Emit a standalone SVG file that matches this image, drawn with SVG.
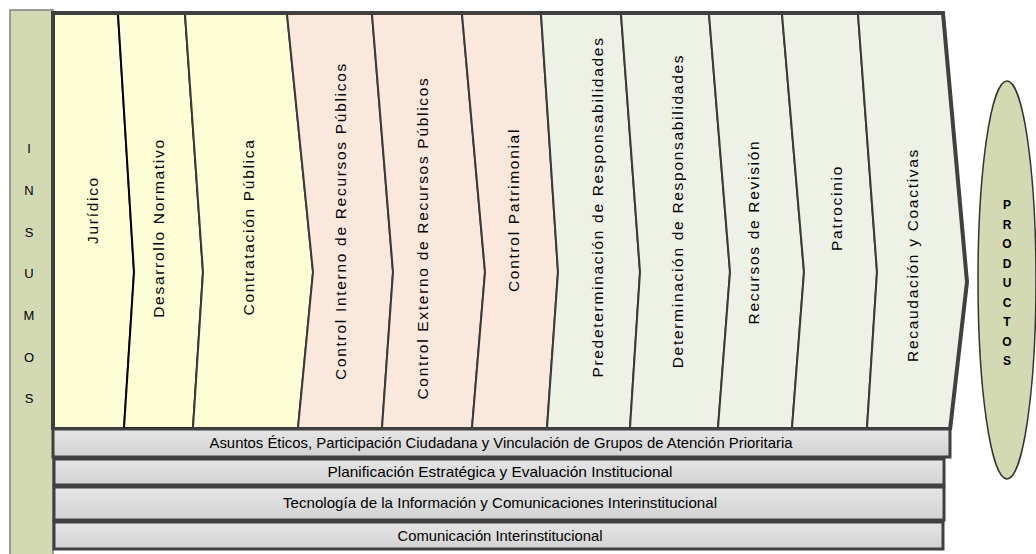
<svg xmlns="http://www.w3.org/2000/svg" width="1036" height="554" viewBox="0 0 1036 554">
<defs>
<linearGradient id="barg" x1="0" y1="0" x2="0" y2="1">
<stop offset="0" stop-color="#e6e6e6"/>
<stop offset="1" stop-color="#d2d2d2"/>
</linearGradient>
<style>
.col{stroke:#3a3a3a;stroke-width:2;stroke-linejoin:miter}
.y{fill:#fefed6}
.s{fill:#fae8dc}
.g{fill:#eef1e6}
.vt{font-family:"Liberation Sans",Arial,sans-serif;font-size:15.5px;letter-spacing:1.7px;fill:#000;text-anchor:middle}
.bar{fill:url(#barg);stroke:#404040;stroke-width:3}
.bt{font-family:"Liberation Sans",Arial,sans-serif;font-size:15px;fill:#000;text-anchor:middle}
.side{fill:#d3d9b3}
.lt{font-family:"Liberation Sans",Arial,sans-serif;font-size:13px;fill:#000;text-anchor:middle}
.pt{font-family:"Liberation Sans",Arial,sans-serif;font-size:12px;font-weight:bold;fill:#000;text-anchor:middle}
</style>
</defs>
<rect width="1036" height="554" fill="#ffffff"/>
<g id="insumos">
<rect class="side" x="10" y="10" width="43" height="550" stroke="#808080" stroke-width="1.5"/>
<text class="lt" x="29" y="153">I</text>
<text class="lt" x="29" y="195">N</text>
<text class="lt" x="29" y="237">S</text>
<text class="lt" x="29" y="278">U</text>
<text class="lt" x="29" y="320">M</text>
<text class="lt" x="29" y="362">O</text>
<text class="lt" x="29" y="403">S</text>
</g>
<g id="juridico">
<polygon class="col y" points="54,14 118,14 134,272 124,428 54,428 54,272"/>
<text class="vt" transform="translate(98,210) rotate(-90)">Jurídico</text>
</g>
<g id="desarrollo-normativo">
<polygon class="col y" points="118,14 185,14 203,272 193,428 124,428 134,272" style="stroke:#000"/>
<text class="vt" transform="translate(164,228) rotate(-90)">Desarrollo Normativo</text>
</g>
<g id="contratacion-publica">
<polygon class="col y" points="185,14 287,14 313,272 298,428 193,428 203,272"/>
<text class="vt" transform="translate(254,227) rotate(-90)">Contratación Pública</text>
</g>
<g id="control-interno">
<polygon class="col s" points="287,14 372,14 393,272 382,428 298,428 313,272"/>
<text class="vt" transform="translate(346,221) rotate(-90)">Control Interno de Recursos Públicos</text>
</g>
<g id="control-externo">
<polygon class="col s" points="372,14 462,14 485,272 472,428 382,428 393,272"/>
<text class="vt" transform="translate(428,238) rotate(-90)">Control Externo de Recursos Públicos</text>
</g>
<g id="control-patrimonial">
<polygon class="col s" points="462,14 541,14 558,272 547,428 472,428 485,272"/>
<text class="vt" transform="translate(519,210) rotate(-90)">Control Patrimonial</text>
</g>
<g id="predeterminacion">
<polygon class="col g" points="541,14 621,14 640,272 630,428 547,428 558,272"/>
<text class="vt" transform="translate(603,207) rotate(-90)">Predeterminación de Responsabilidades</text>
</g>
<g id="determinacion">
<polygon class="col g" points="621,14 709,14 730,272 718,428 630,428 640,272"/>
<text class="vt" transform="translate(683,211) rotate(-90)">Determinación de Responsabilidades</text>
</g>
<g id="recursos-revision">
<polygon class="col g" points="709,14 782,14 804,272 792,428 718,428 730,272"/>
<text class="vt" transform="translate(759,232) rotate(-90)">Recursos de Revisión</text>
</g>
<g id="patrocinio">
<polygon class="col g" points="782,14 858,14 877,272 867,428 792,428 804,272"/>
<text class="vt" transform="translate(842,208) rotate(-90)">Patrocinio</text>
</g>
<g id="recaudacion">
<polygon class="col g" points="858,14 943,14 967,282 950,428 867,428 877,272"/>
<text class="vt" transform="translate(918,255) rotate(-90)">Recaudación y Coactivas</text>
</g>
<g id="connectors">
<polyline points="53,430 53,13 943,13 967,282 950,430" fill="none" stroke="#404040" stroke-width="4" stroke-linejoin="miter"/>
</g>
<g id="asuntos-eticos">
<rect class="bar" x="53" y="429" width="897" height="28"/>
<text class="bt" x="501" y="448" textLength="583" lengthAdjust="spacingAndGlyphs">Asuntos Éticos, Participación Ciudadana y Vinculación de Grupos de Atención Prioritaria</text>
</g>
<g id="planificacion">
<rect class="bar" x="54" y="459" width="890" height="26"/>
<text class="bt" x="500" y="477" textLength="345" lengthAdjust="spacingAndGlyphs">Planificación Estratégica y Evaluación Institucional</text>
</g>
<g id="tecnologia">
<rect class="bar" x="54" y="487" width="890" height="33"/>
<text class="bt" x="500" y="508" textLength="434" lengthAdjust="spacingAndGlyphs">Tecnología de la Información y Comunicaciones Interinstitucional</text>
</g>
<g id="comunicacion">
<rect class="bar" x="54" y="522" width="889" height="27"/>
<text class="bt" x="500" y="541" textLength="205" lengthAdjust="spacingAndGlyphs">Comunicación Interinstitucional</text>
</g>
<g id="productos">
<ellipse cx="1007" cy="280" rx="29" ry="199" fill="#d3d9b3" stroke="#333333" stroke-width="1.5"/>
<text class="pt" x="1007" y="209">P</text>
<text class="pt" x="1007" y="229">R</text>
<text class="pt" x="1007" y="248">O</text>
<text class="pt" x="1007" y="268">D</text>
<text class="pt" x="1007" y="287">U</text>
<text class="pt" x="1007" y="307">C</text>
<text class="pt" x="1007" y="326">T</text>
<text class="pt" x="1007" y="346">O</text>
<text class="pt" x="1007" y="365">S</text>
</g>
</svg>
